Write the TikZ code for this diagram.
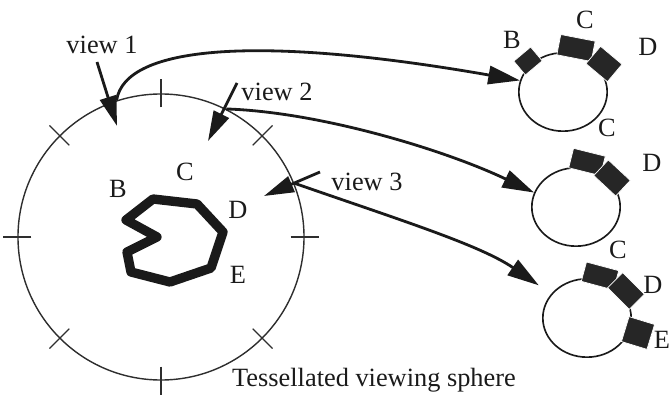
\documentclass[tikz,border=0pt]{standalone}
\usepackage{fontspec}
\setmainfont{Liberation Serif}
\usepackage{xcolor}
\usepackage{tikz}
\usetikzlibrary{arrows.meta,positioning,shapes.geometric,calc}
\definecolor{ink}{HTML}{1A1A1A}
\definecolor{rim}{HTML}{2E2E2E}
\definecolor{blockfill}{HTML}{262626}
\tikzset{
  sphere/.style={
    circle, draw=rim, line width=1.2pt,
    minimum size=8.58cm, inner sep=0pt
  },
  viewcirc/.style={
    ellipse, draw=ink, line width=1.4pt,
    minimum width=2.65cm, minimum height=2.35cm, inner sep=0pt
  },
  tickmark/.style={draw=rim, line width=1.1pt},
  outline/.style={draw=ink, line width=8pt, line join=round},
  block/.style 2 args={
    rectangle, fill=blockfill, draw=white, line width=0.6pt,
    minimum width=#1, minimum height=#2, inner sep=0pt
  },
  lbl/.style={
    font=\fontsize{22.5}{26}\selectfont, text=ink, inner sep=0pt
  },
  viewarrow/.style={
    -{Triangle[length=0.9cm, width=0.5cm]}, draw=ink, line width=2.4pt
  },
  maparrow/.style={
    -{Triangle[length=0.95cm, width=0.55cm]}, draw=ink, line width=2.4pt
  },
}

\begin{document}
\begin{tikzpicture}[x=0.03cm, y=-0.03cm]
\useasboundingbox (0,0) rectangle (670,400);

% Viewing sphere with its tessellation ticks
\node[sphere] (sph) at (161,237) {};
\foreach \a in {0,45,...,315}
  \draw[tickmark] (sph.\a) ++(\a:-0.42cm) -- ++(\a:0.84cm);

% Object inside the sphere
\draw[outline] (153,199) -- (197,204) -- (223,232) -- (211,268) -- (170,282)
  -- (131,272) -- (127,252) -- (157,237) -- (126,220) -- cycle;

\node[lbl] (oB) at (118,189) {B};
\node[lbl] (oC) at (185,172) {C};
\node[lbl] (oD) at (238,210) {D};
\node[lbl] (oE) at (238,275) {E};

% View directions
\node[lbl] (lv1) at (102,45) {view 1};
\node[lbl] (lv2) at (277,92) {view 2};
\node[lbl] (lv3) at (367,182) {view 3};
\coordinate (v1s) at (97,62);   \coordinate (v1t) at (117,126);
\coordinate (v2s) at (237,83);  \coordinate (v2t) at (208,141);
\coordinate (v3s) at (320,172); \coordinate (v3t) at (264,196);
\draw[viewarrow] (v1s) -- (v1t);
\draw[viewarrow] (v2s) -- (v2t);
\draw[viewarrow] (v3s) -- (v3t);

% Views seen from each direction
\node[viewcirc] (c1) at (563,92) {};
\node[viewcirc] (c2) at (576,207) {};
\node[viewcirc] (c3) at (587,318) {};

% ── view 1 ──
\node[block={0.66cm}{0.54cm}, rotate=40] (c1B) at (528,61) {};
\node[block={1.05cm}{0.62cm}, rotate=-11] (c1C) at (576,48) {};
\node[block={0.84cm}{0.68cm}, rotate=-40] (c1D) at (604,64) {};
\node[lbl] (c1lB) at (512,40) {B};
\node[lbl] (c1lC) at (585,20) {C};
\node[lbl] (c1lD) at (648,47) {D};

% ── view 2 ──
\node[block={0.98cm}{0.6cm}, rotate=-14] (c2C) at (587,162) {};
\node[block={0.9cm}{0.64cm}, rotate=-43] (c2D) at (612,178) {};
\node[lbl] (c2lC) at (607,128) {C};
\node[lbl] (c2lD) at (652,163) {D};

% ── view 3 ──
\node[block={1.0cm}{0.6cm}, rotate=-15] (c3C) at (600,276) {};
\node[block={0.92cm}{0.64cm}, rotate=-45] (c3D) at (626,291) {};
\node[block={0.8cm}{0.78cm}, rotate=-17] (c3E) at (638,333) {};
\node[lbl] (c3lC) at (618,250) {C};
\node[lbl] (c3lD) at (653,285) {D};
\node[lbl] (c3lE) at (662,340) {E};

% Mapping from sphere to views
\draw[maparrow] (sph.108) .. controls (125,45) and (260,35) .. (c1.165);
\draw[maparrow] (sph.63) .. controls (320,112) and (445,150) .. (c2.161);
\draw[maparrow, shorten >=0.45cm] (sph.22) .. controls (400,220) and (480,245) .. (c3.146);

\node[lbl] (cap) at (374,380) {Tessellated viewing sphere};

\end{tikzpicture}
\end{document}
